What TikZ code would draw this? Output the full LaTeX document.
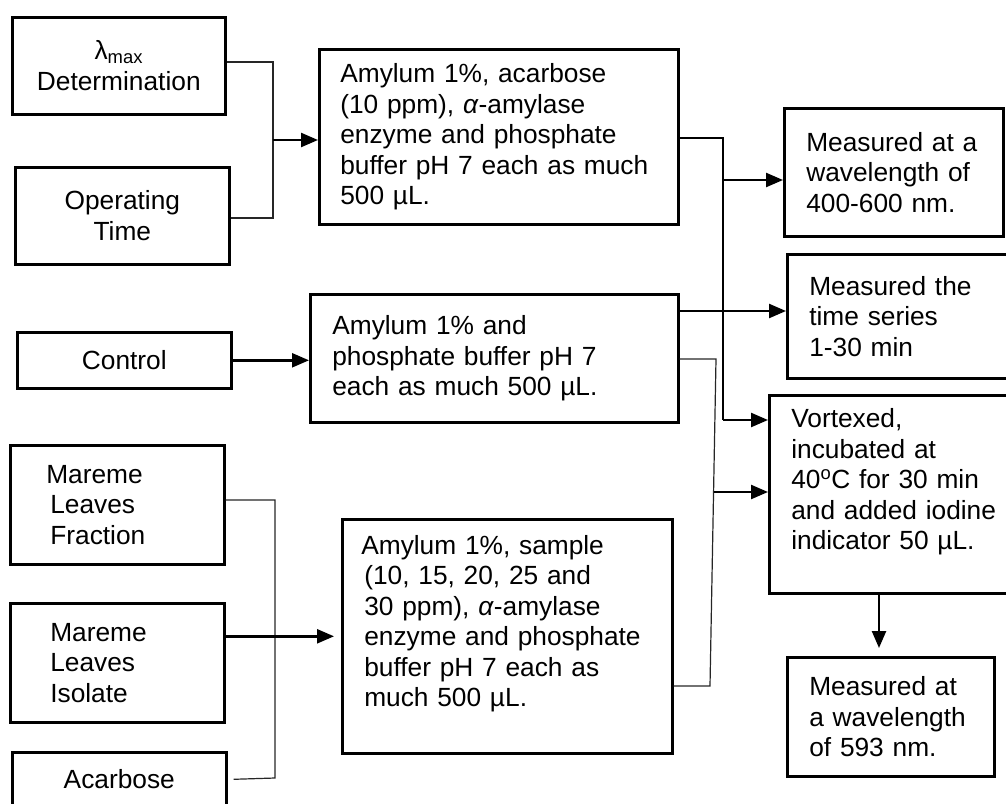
\documentclass[tikz,border=0pt]{standalone}
\usepackage{fontspec}
\setmainfont{Liberation Sans}
\usetikzlibrary{arrows.meta}
\begin{document}
\begin{tikzpicture}[x=1pt,y=-1pt,
  box/.style={draw, line width=2.6pt, anchor=north west, inner ysep=0pt,
    font=\fontsize{26.3pt}{30.5pt}\selectfont},
  lbox/.style={box, align=left},
  cbox/.style={box, align=center, inner xsep=0pt},
  conn/.style={line width=2.4pt},
  arr/.style={line width=2.4pt, -{Triangle[length=17pt,width=14pt]}},
  thinln/.style={line width=1.2pt, black!85},
]
\useasboundingbox (0,0) rectangle (1006,803);

% left column
\node[cbox, text width=213pt, minimum height=97pt] (A) at (11,16)
  {\fontsize{26.3pt}{28pt}\selectfont λ\textsubscript{max}\\Determination};
\node[cbox, text width=214pt, minimum height=97pt] (B) at (14,166) {Operating\\Time};
\node[cbox, text width=214pt, minimum height=56pt] (Ctrl) at (16,331) {Control};
\node[lbox, inner xsep=36pt, text width=142pt, minimum height=119pt] (Frac) at (9,444)
  {Mareme\\\hspace*{4pt}Leaves\\\hspace*{4pt}Fraction};
\node[lbox, inner xsep=40pt, text width=134pt, minimum height=119pt] (Iso) at (9,602)
  {Mareme\\Leaves\\Isolate};
\node[cbox, text width=214pt, minimum height=54pt] (Acar) at (11,751) {Acarbose};

% middle column
\node[lbox, inner xsep=21pt, text width=317pt, minimum height=175pt] (C) at (318,48)
  {Amylum 1\%, acarbose\\(10 ppm), \textit{α}-amylase\\enzyme and phosphate\\buffer pH 7 each as much\\500 µL.};
\node[lbox, inner xsep=22pt, text width=324pt, minimum height=128pt] (F) at (309,293)
  {Amylum 1\% and\\phosphate buffer pH 7\\each as much 500 µL.};
\node[lbox, inner xsep=22pt, text width=286pt, minimum height=234pt] (G) at (341,518)
  {\hspace*{-3pt}Amylum 1\%, sample\\(10, 15, 20, 25 and\\30 ppm), \textit{α}-amylase\\enzyme and phosphate\\buffer pH 7 each as\\much 500 µL.\\\mbox{}};

% right column
\node[lbox, inner xsep=22pt, text width=175pt, minimum height=128pt] (D) at (783,107)
  {Measured at a\\wavelength of\\400-600 nm.};
\node[lbox, inner xsep=22pt, text width=190pt, minimum height=124pt] (E) at (786,253)
  {Measured the\\time series\\1-30 min};
\node[lbox, inner xsep=22pt, text width=206pt, minimum height=198pt] (H) at (768,394)
  {Vortexed,\\incubated at\\40\textsuperscript{o}C for 30 min\\and added iodine\\indicator 50 µL.\\\mbox{}};
\node[lbox, inner xsep=22pt, text width=163pt, minimum height=119pt] (I) at (786,656)
  {Measured at\\a wavelength\\of 593 nm.};

% junction coordinates
\coordinate (j1) at (273,140);
\coordinate (j3) at (723,420);
\coordinate (j4) at (723,180);
\coordinate (k1) at (716,359);
\coordinate (k2) at (710,686);
\coordinate (k3) at (713.6,492);
\coordinate (m1) at (275,778);

% A/B -> C
\draw[thinln] (A.east |- 0,62) -| (j1) |- (B.east |- 0,218);
\draw[arr] (j1) -- (j1 -| C.west);

% C -> D, H
\draw[conn] (C.east |- 0,138) -| (j3);
\draw[arr] (j4) -- (j4 -| D.west);
\draw[arr] (j3) -- (j3 -| H.west);

% Control -> F
\draw[arr] (Ctrl.east) -- (Ctrl.east -| F.west);

% F -> E
\draw[arr] (F.east |- 0,311) -- (E.west |- 0,311);

% F / G -> H
\draw[thinln] (F.east |- k1) -- (k1) -- (k2) -- (k2 -| G.east);
\draw[arr] (k3) -- (k3 -| H.west);

% Fraction / Isolate / Acarbose -> G
\draw[thinln] (Frac.east |- 0,500) -| (m1) -- ([xshift=6pt]Acar.east);
\draw[arr, shorten >=7pt] (Iso.east |- G.west) -- (G.west);

% H -> I
\draw[arr, shorten >=8pt] (879,592) -- (879,656);
\end{tikzpicture}
\end{document}
